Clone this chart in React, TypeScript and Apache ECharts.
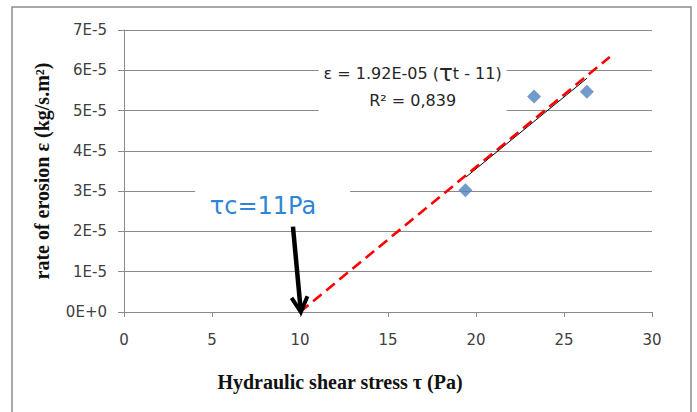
import React, { useEffect, useRef } from 'react';
import * as echarts from 'echarts';

// Measured points
const shearStress = [19.4, 23.3, 26.3];
const erosionRate = [3.02e-5, 5.35e-5, 5.47e-5];
// Red dashed critical-stress line (end points)
const criticalLineX = [10, 27.6];
const criticalLineY = [0, 6.33e-5];
// Thin black trendline (end points)
const trendX = [19.43, 26.3];
const trendY = [3.35e-5, 5.8e-5];
// Axis ticks
const xTicks = [0, 5, 10, 15, 20, 25, 30];
const yTickLabels = ['0E+0', '1E-5', '2E-5', '3E-5', '4E-5', '5E-5', '6E-5', '7E-5'];
// Annotation anchors (data coords)
const equationAnchor = [16.4, 5.93e-5];
const r2Anchor = [16.4, 5.26e-5];
const tauLabelAnchor = [7.9, 2.63e-5];
const arrowFrom = [9.6, 2.12e-5];
const arrowTo = [10.05, 0];

const GRID = '#8a8a8a';
const TICK_FONT = '"DejaVu Sans", sans-serif';
const SERIF = '"Liberation Serif", serif';

export default function App() {
  const ref = useRef<HTMLDivElement>(null);
  useEffect(() => {
    if (!ref.current) return;
    const chart = echarts.init(ref.current, undefined, { renderer: 'svg' });
    chart.setOption({
      animation: false,
      backgroundColor: '#ffffff',
      grid: { left: 124, right: 45, top: 30, bottom: 100 },
      xAxis: {
        type: 'value',
        min: xTicks[0],
        max: xTicks[xTicks.length - 1],
        interval: xTicks[1] - xTicks[0],
        axisLine: { show: true, lineStyle: { color: GRID, width: 1 } },
        axisTick: { show: true, length: 5, lineStyle: { color: GRID } },
        splitLine: { show: false },
        axisLabel: { color: '#404040', fontSize: 15, fontFamily: TICK_FONT, margin: 20 },
      },
      yAxis: {
        type: 'value',
        min: 0,
        max: 7e-5,
        interval: 1e-5,
        name: 'rate of erosion ε (kg/s.m²)',
        nameLocation: 'middle',
        nameRotate: 90,
        nameGap: 72,
        nameTextStyle: {
          fontFamily: SERIF,
          fontWeight: 'bold',
          fontSize: 20,
          color: '#111',
        },
        axisLine: { show: true, lineStyle: { color: GRID, width: 1 } },
        axisTick: { show: true, length: 6, lineStyle: { color: GRID } },
        splitLine: { show: true, lineStyle: { color: GRID, width: 1 } },
        axisLabel: {
          color: '#404040',
          fontSize: 15,
          fontFamily: TICK_FONT,
          margin: 17,
          formatter: (v: number) => yTickLabels[Math.round(v / 1e-5)] ?? '',
        },
      },
      series: [
        {
          type: 'line',
          data: trendX.map((x, i) => [x, trendY[i]]),
          symbol: 'none',
          lineStyle: { color: '#000', width: 1 },
          z: 3,
        },
        {
          type: 'line',
          data: criticalLineX.map((x, i) => [x, criticalLineY[i]]),
          symbol: 'none',
          lineStyle: { color: '#ff0000', width: 2.6, type: [11, 6] },
          z: 4,
        },
        {
          type: 'scatter',
          data: shearStress.map((x, i) => [x, erosionRate[i]]),
          symbol: 'diamond',
          symbolSize: 14,
          itemStyle: { color: '#4f81bd' },
          z: 5,
        },
      ],
    });

    const px = (p: number[]) => chart.convertToPixel({ gridIndex: 0 }, p) as number[];
    const eq = px(equationAnchor);
    const r2 = px(r2Anchor);
    const tl = px(tauLabelAnchor);
    const a0 = px(arrowFrom);
    const a1 = px(arrowTo);
    const dx = a1[0] - a0[0];
    const dy = a1[1] - a0[1];
    const len = Math.hypot(dx, dy);
    const ux = dx / len;
    const uy = dy / len;
    const headLen = 17;
    const ang = (28 * Math.PI) / 180;
    const rot = (x: number, y: number, t: number) => [
      x * Math.cos(t) - y * Math.sin(t),
      x * Math.sin(t) + y * Math.cos(t),
    ];
    const h1 = rot(-ux, -uy, ang);
    const h2 = rot(-ux, -uy, -ang);

    chart.setOption({
      graphic: [
        {
          type: 'rect',
          silent: true,
          z: 100,
          shape: { x: 12, y: 7, width: 679, height: 420 },
          style: { fill: 'none', stroke: '#8c8c8c', lineWidth: 1.5 },
        },
        {
          type: 'rect',
          silent: true,
          z: 100,
          shape: { x: eq[0] - 94, y: eq[1] - 19, width: 188, height: 64 },
          style: { fill: '#ffffff' },
        },
        {
          type: 'text',
          silent: true,
          z: 101,
          style: {
            x: eq[0],
            y: eq[1],
            text: '{a|ε = 1.92E-05 (}{b|τ}{a|t - 11)}',
            align: 'center',
            verticalAlign: 'middle',
            rich: {
              a: { fontSize: 16, fontFamily: TICK_FONT, fill: '#262626', color: '#262626' },
              b: { fontSize: 23, fontFamily: TICK_FONT, fill: '#262626', color: '#262626' },
            },
          },
        },
        {
          type: 'text',
          silent: true,
          z: 101,
          style: {
            x: r2[0],
            y: r2[1],
            text: 'R² = 0,839',
            align: 'center',
            verticalAlign: 'middle',
            fontSize: 16,
            fontFamily: TICK_FONT,
            fill: '#262626',
          },
        },
        {
          type: 'rect',
          silent: true,
          z: 100,
          shape: { x: tl[0] - 68, y: tl[1] - 24, width: 155, height: 40 },
          style: { fill: '#ffffff' },
        },
        {
          type: 'text',
          silent: true,
          z: 101,
          style: {
            x: tl[0],
            y: tl[1],
            text: 'τc=11Pa',
            align: 'center',
            verticalAlign: 'middle',
            fontSize: 24,
            fontFamily: TICK_FONT,
            fill: '#2e86d6',
          },
        },
        {
          type: 'line',
          silent: true,
          z: 102,
          shape: { x1: a0[0], y1: a0[1], x2: a1[0] - ux * 2, y2: a1[1] - uy * 2 },
          style: { stroke: '#000', lineWidth: 4.5, lineCap: 'butt' },
        },
        {
          type: 'polyline',
          silent: true,
          z: 102,
          shape: {
            points: [
              [a1[0] + h1[0] * headLen, a1[1] + h1[1] * headLen],
              [a1[0], a1[1]],
              [a1[0] + h2[0] * headLen, a1[1] + h2[1] * headLen],
            ],
          },
          style: { stroke: '#000', lineWidth: 4, fill: 'none', lineJoin: 'miter' },
        },
        {
          type: 'text',
          silent: true,
          z: 101,
          style: {
            x: 340,
            y: 382,
            text: 'Hydraulic shear stress τ (Pa)',
            align: 'center',
            verticalAlign: 'middle',
            fontSize: 20,
            fontWeight: 'bold',
            fontFamily: SERIF,
            fill: '#111',
          },
        },
      ],
    });
    return () => chart.dispose();
  }, []);
  return (
    <div
      ref={ref}
      style={{ position: 'absolute', left: 0, top: 0, width: 697, height: 412, background: '#fff' }}
    />
  );
}
